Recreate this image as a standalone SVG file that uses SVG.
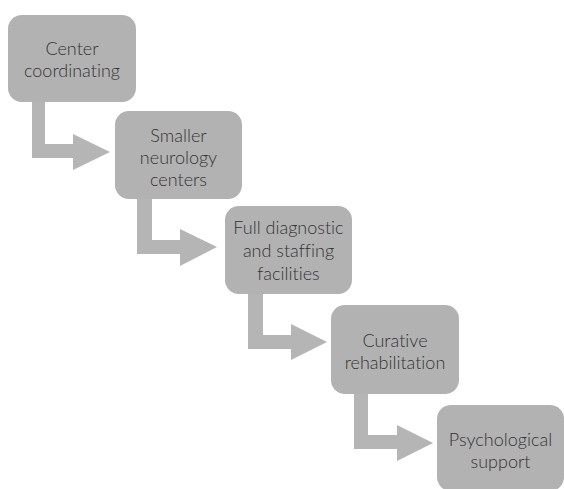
<svg xmlns="http://www.w3.org/2000/svg" width="564" height="489" viewBox="0 0 564 489">
<style>
.box{fill:#b2b2b2;}
.arr{fill:#b5b5b5;}
text{font-family:Lato,"Open Sans",sans-serif;font-size:18px;font-weight:300;font-variant-ligatures:none;fill:#333333;text-anchor:middle;}
</style>
<rect width="564" height="489" fill="#ffffff"/>
<g id="connectors">
<polygon class="arr" points="32,100 45,100 45,144 73,144 73,134 110,152 73,170 73,158 32,158"/>
<polygon class="arr" points="137,197 152,197 152,240 180,240 180,229 217,247 180,266 180,254 137,254"/>
<polygon class="arr" points="248,292 263,292 263,335 291,335 291,324 327,342 291,360 291,349 248,349"/>
<polygon class="arr" points="354,392 368,392 368,435 397,435 397,425 433,443 397,461 397,449 354,449"/>
</g>
<g id="n1"><rect class="box" x="8" y="15" width="128" height="87" rx="14"/><text x="72" y="55">Center</text><text x="72" y="77">coordinating</text></g>
<g id="n2"><rect class="box" x="115" y="111" width="127" height="88" rx="14"/><text x="178.5" y="142">Smaller</text><text x="178.5" y="164">neurology</text><text x="178.5" y="186">centers</text></g>
<g id="n3"><rect class="box" x="225" y="206" width="127" height="88" rx="14"/><text x="288.5" y="234">Full diagnostic</text><text x="288.5" y="257">and staffing</text><text x="288.5" y="280">facilities</text></g>
<g id="n4"><rect class="box" x="331" y="305" width="128" height="89" rx="14"/><text x="395" y="347">Curative</text><text x="395" y="369">rehabilitation</text></g>
<g id="n5"><rect class="box" x="437" y="405" width="127" height="86" rx="14"/><text x="500.5" y="446">Psychological</text><text x="500.5" y="468">support</text></g>
</svg>
